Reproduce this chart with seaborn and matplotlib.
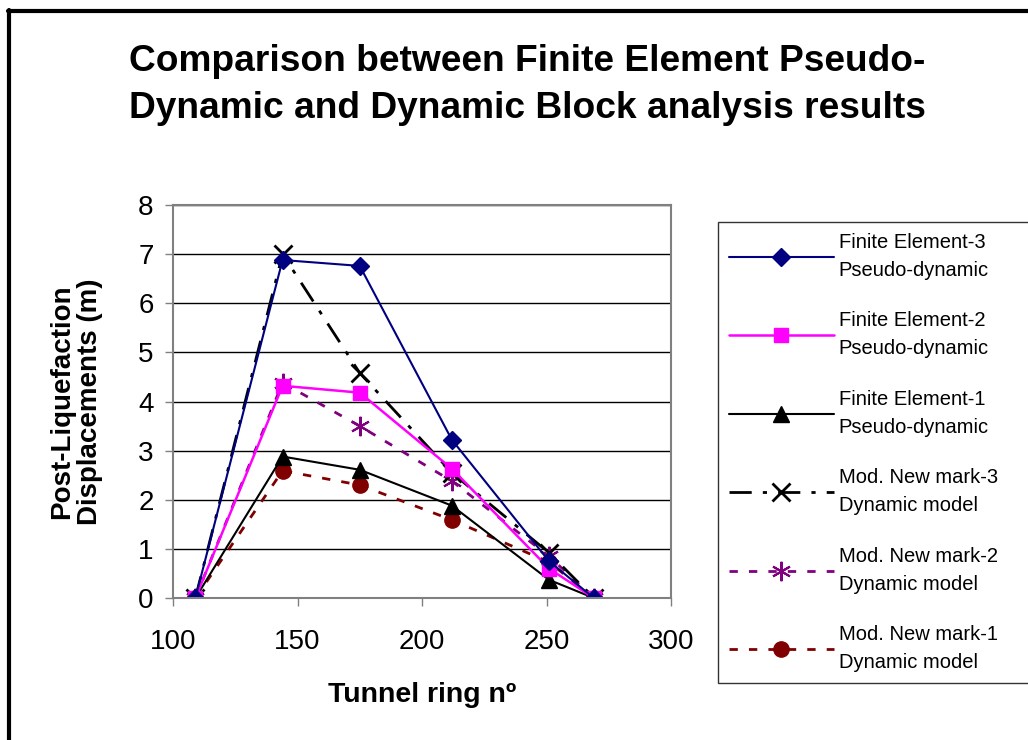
import matplotlib
matplotlib.use("Agg")
import matplotlib.pyplot as plt
from matplotlib.lines import Line2D
import seaborn as sns
import pandas as pd

ring = [109, 144, 175, 212, 251, 269]
fe3 = [0, 6.88, 6.76, 3.22, 0.75, 0]
fe2 = [0, 4.32, 4.18, 2.63, 0.6, 0]
fe1 = [0, 2.88, 2.61, 1.88, 0.37, 0]
nm3 = [0, 7.0, 4.58, 2.55, 0.92, 0]
nm2 = [0, 4.38, 3.5, 2.38, 0.85, 0]
nm1 = [0, 2.59, 2.3, 1.59, 0.73, 0]

labels = ["Finite Element-3\nPseudo-dynamic", "Finite Element-2\nPseudo-dynamic",
          "Finite Element-1\nPseudo-dynamic", "Mod. New mark-3\nDynamic model",
          "Mod. New mark-2\nDynamic model", "Mod. New mark-1\nDynamic model"]
series = [fe3, fe2, fe1, nm3, nm2, nm1]

sns.set_theme(style="white")
plt.rcParams['font.family'] = ['Liberation Sans', 'DejaVu Sans']
plt.rcParams['text.color'] = 'black'
plt.rcParams['axes.labelcolor'] = 'black'
plt.rcParams['xtick.color'] = 'black'
plt.rcParams['ytick.color'] = 'black'

styles = [
    dict(color="#000080", marker="D", linestyle="-", ms=9, lw=1.5, mew=1),
    dict(color="#FF00FF", marker="s", linestyle="-", ms=10, lw=1.8, mew=1),
    dict(color="#000000", marker="^", linestyle="-", ms=11, lw=1.5, mew=1),
    dict(color="#000000", marker="x", linestyle=(0, (8, 4, 1.5, 4)), ms=13, lw=2, mew=2),
    dict(color="#800080", marker=(6, 2, 0), linestyle=(0, (3, 4)), ms=14, lw=2, mew=1.5),
    dict(color="#800000", marker="o", linestyle=(0, (3, 4)), ms=11, lw=2, mew=1),
]

fig = plt.figure(figsize=(10.28, 7.4), dpi=100)
ax = fig.add_axes([173/1028, 1-598/740, (671-173)/1028, (598-205)/740])

rows = []
for lab, vals in zip(labels, series):
    for x, y in zip(ring, vals):
        rows.append(dict(series=lab, ring=x, disp=y))
df = pd.DataFrame(rows)

handles = {}
for lab, st in reversed(list(zip(labels, styles))):
    sub = df[df.series == lab]
    sns.lineplot(data=sub, x="ring", y="disp", ax=ax, color=st["color"],
                 marker=st["marker"], linestyle=st["linestyle"], markersize=st["ms"],
                 linewidth=st["lw"], markeredgewidth=st["mew"],
                 markeredgecolor=st["color"], label=lab, legend=False)
    handles[lab] = ax.lines[-1]

ax.set_xlim(100, 300)
ax.set_ylim(0, 8)
ax.set_xticks([100, 150, 200, 250, 300])
ax.set_yticks(range(0, 9))
ax.yaxis.grid(True, color="black", linewidth=1)
ax.set_axisbelow(True)
for s in ax.spines.values():
    s.set_color("#808080")
    s.set_linewidth(1.5)
ax.tick_params(axis="both", labelsize=20, labelcolor="black", direction="out",
               length=6, width=1, left=True, bottom=True, color="#808080")
ax.tick_params(axis="x", pad=16)
ax.tick_params(axis="y", pad=8)
ax.set_xlabel("Tunnel ring nº", fontsize=20.5, fontweight="bold", labelpad=20)
ax.set_ylabel("Post-Liquefaction\nDisplacements (m)", fontsize=20, fontweight="bold",
              labelpad=25, linespacing=1.1)

fig.text(527/1028, 1-85/740, "Comparison between Finite Element Pseudo-\nDynamic and Dynamic Block analysis results",
         ha="center", va="center", fontsize=26.7, fontweight="bold", linespacing=1.42)

leg = fig.legend([handles[l] for l in labels], labels, loc="upper left",
                 bbox_to_anchor=(718/1028, 1-680/740, (1040-718)/1028, (680-222)/740),
                 mode="expand", fontsize=14.5, frameon=True,
                 fancybox=False, edgecolor="black", handlelength=5.2, labelspacing=1.56,
                 borderpad=0.55, handletextpad=0.25, borderaxespad=0)
leg.get_frame().set_linewidth(1)
for t in leg.get_texts():
    t.set_linespacing(1.6)

fig.add_artist(Line2D([8/1028, 1], [1-11/740, 1-11/740], transform=fig.transFigure,
                      color="black", linewidth=3))
fig.add_artist(Line2D([9/1028, 9/1028], [0, 1-10/740], transform=fig.transFigure,
                      color="black", linewidth=3))
fig.savefig("out.png", dpi=100)
